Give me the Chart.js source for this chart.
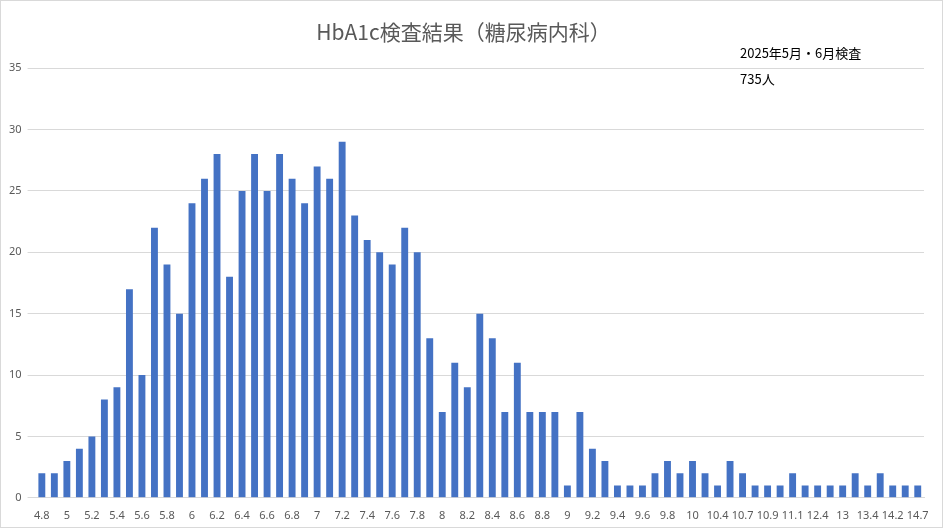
<!DOCTYPE html>
<html>
<head>
<meta charset="utf-8">
<script src="https://cdn.jsdelivr.net/npm/chart.js@4"></script>
<style>
	body { margin: 0; background: #fff; }
	#wrap { position: relative; width: 941px; height: 526px; border: 1px solid #d9d9d9; }
	#note { position: absolute; left: 739px; top: 39px; font: 13px "Noto Sans CJK JP", sans-serif; color: #000; line-height: 26px; }
</style>
</head>
<body>
<div id="wrap">
	<canvas id="chart" width="941" height="526"></canvas>
	<div id="note">2025年5月・6月検査<br>735人</div>
</div>
<script>
const categories = [
	"4.8", "4.9", "5", "5.1", "5.2", "5.3", "5.4", "5.5", "5.6", "5.7", "5.8", "5.9",
	"6", "6.1", "6.2", "6.3", "6.4", "6.5", "6.6", "6.7", "6.8", "6.9",
	"7", "7.1", "7.2", "7.3", "7.4", "7.5", "7.6", "7.7", "7.8", "7.9",
	"8", "8.1", "8.2", "8.3", "8.4", "8.5", "8.6", "8.7", "8.8", "8.9",
	"9", "9.1", "9.2", "9.3", "9.4", "9.5", "9.6", "9.7", "9.8", "9.9",
	"10", "10.2", "10.4", "10.5", "10.7", "10.8", "10.9", "11", "11.1", "11.4",
	"12.4", "12.6", "13", "13.2", "13.4", "13.8", "14.2", "14.5", "14.7"
];
const counts = [
	2, 2, 3, 4, 5, 8, 9, 17, 10, 22, 19, 15,
	24, 26, 28, 18, 25, 28, 25, 28, 26, 24,
	27, 26, 29, 23, 21, 20, 19, 22, 20, 13,
	7, 11, 9, 15, 13, 7, 11, 7, 7, 7,
	1, 7, 4, 3, 1, 1, 1, 2, 3, 2,
	3, 2, 1, 3, 2, 1, 1, 1, 2, 1,
	1, 1, 1, 2, 1, 2, 1, 1, 1
];

new Chart(document.getElementById("chart"), {
	type: "bar",
	data: {
		labels: categories,
		datasets: [{
			data: counts,
			backgroundColor: "#4472c4",
			categoryPercentage: 1,
			barPercentage: 0.55,
		}],
	},
	options: {
		responsive: false,
		animation: false,
		layout: { padding: { left: 2, right: 18, top: 6, bottom: 2 } },
		plugins: {
			legend: { display: false },
			tooltip: { enabled: false },
			title: {
				display: true,
				text: "HbA1c検査結果（糖尿病内科）",
				color: "#595959",
				font: { family: "'Noto Sans CJK JP'", size: 21, weight: "normal" },
				padding: { top: 12, bottom: 24 },
			},
		},
		scales: {
			x: {
				grid: { display: false },
				border: { color: "#d9d9d9" },
				ticks: {
					autoSkip: false,
					maxRotation: 0,
					color: "#595959",
					font: { family: "'Noto Sans'", size: 11 },
					callback: function (val, index) {
						return index % 2 === 0 ? this.getLabelForValue(val) : "";
					},
				},
			},
			y: {
				min: 0,
				max: 35,
				ticks: { stepSize: 5, color: "#595959", font: { family: "'Noto Sans'", size: 11 }, padding: 6 },
				grid: { color: "#d9d9d9" },
				border: { display: false },
			},
		},
	},
});
</script>
</body>
</html>
